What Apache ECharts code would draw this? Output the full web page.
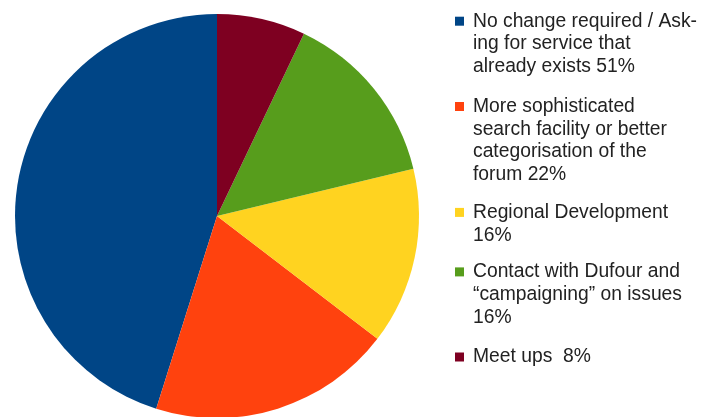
<!DOCTYPE html>
<html><head><meta charset="utf-8">
<script src="https://cdn.jsdelivr.net/npm/echarts@6/dist/echarts.min.js"></script>
<style>html,body{margin:0;padding:0;background:#fff}#c{width:716px;height:417px}</style>
</head><body><div id="c"></div>
<script>
const categories = [
  "No change required / Ask-\ning for service that\nalready exists 51%",
  "More sophisticated\nsearch facility or better\ncategorisation of the\nforum 22%",
  "Regional Development\n16%",
  "Contact with Dufour and\n\u201ccampaigning\u201d on issues\n16%",
  "Meet ups  8%"
];
const values = [51, 22, 16, 16, 8];
const colors = ["#004586", "#ff420e", "#ffd320", "#579d1c", "#7e0021"];
const legendTops = [9.8, 95, 201, 260.5, 345.6];

const LH = 22.8;
const legends = categories.map((name, i) => {
  const n = name.split("\n").length;
  const h = n * LH;
  const sy = LH / 2 - 4.5;
  return {
    orient: "vertical",
    left: 455,
    top: legendTops[i],
    padding: 0,
    itemWidth: 13,
    itemHeight: h,
    selectedMode: false,
    icon: "path://M0,0M0," + sy.toFixed(2) + "h9v9h-9zM13," + h.toFixed(2),
    data: [name],
    textStyle: { fontFamily: "Liberation Sans", fontSize: 19.3, lineHeight: LH, color: "#222" }
  };
});

const chart = echarts.init(document.getElementById("c"), null, { renderer: "canvas" });
chart.setOption({
  animation: false,
  color: colors,
  legend: legends,
  series: [{
    type: "pie",
    center: [217, 216],
    radius: [0, 202],
    startAngle: 90,
    clockwise: false,
    label: { show: false },
    labelLine: { show: false },
    emphasis: { disabled: true },
    itemStyle: { borderWidth: 0 },
    data: categories.map((c, i) => ({ name: c, value: values[i] }))
  }]
});
</script></body></html>
